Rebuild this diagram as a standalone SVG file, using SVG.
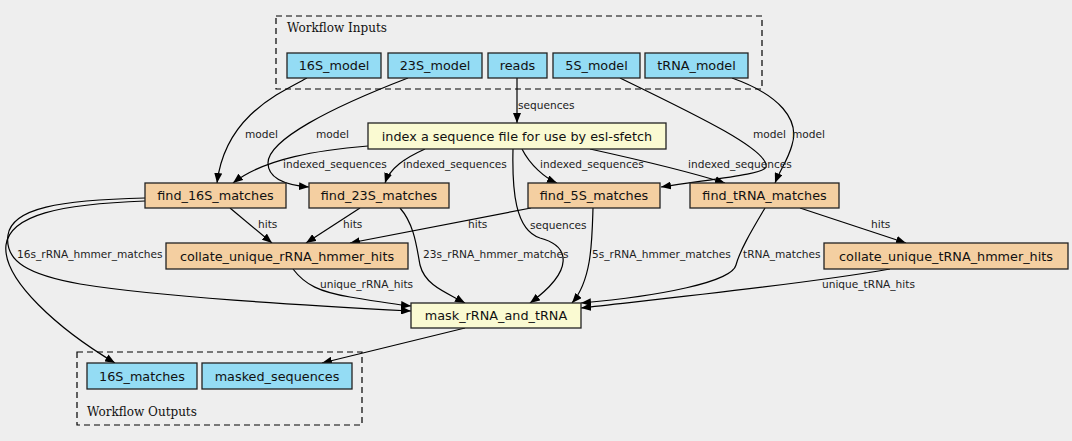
<svg xmlns="http://www.w3.org/2000/svg" width="1072" height="441" viewBox="0 0 1072 441">
<style>
.bg{fill:#eeeeee}
.cluster{fill:none;stroke:#000;stroke-width:1.2;stroke-dasharray:6,4}
.clabel{font-family:"DejaVu Serif",serif;font-size:12px;fill:#111}
.in rect{fill:#94dcf4;stroke:#222;stroke-width:1.3}
.step rect{fill:#f4cfa1;stroke:#222;stroke-width:1.3}
.tool rect{fill:#fafad2;stroke:#222;stroke-width:1.3}
.node text{font-family:"DejaVu Sans",sans-serif;font-size:12.8px;fill:#111;text-anchor:middle}
.edges path{fill:none;stroke:#000;stroke-width:1.2;marker-end:url(#ah)}
.elabel{font-family:"DejaVu Sans",sans-serif;font-size:10.6px;fill:#222}
</style>
<defs>
<marker id="ah" markerUnits="userSpaceOnUse" markerWidth="11" markerHeight="8" refX="10" refY="4" orient="auto">
<path d="M0,0 L10,4 L0,8 z" fill="#000"/>
</marker>
</defs>
<rect class="bg" x="0" y="0" width="1072" height="441"/>
<g id="cluster_inputs">
<rect class="cluster" x="276" y="16" width="486" height="73"/>
<text class="clabel" x="287" y="32">Workflow Inputs</text>
</g>
<g id="cluster_outputs">
<rect class="cluster" x="77" y="352" width="285" height="73"/>
<text class="clabel" x="87" y="416">Workflow Outputs</text>
</g>
<g class="edges" id="connectors">
<path d="M307,78 C275,95 225,118 217,183"/>
<path d="M408,78 C330,108 268,140 268,163 C268,178 285,185 309,187"/>
<path d="M517,78 L517,123"/>
<path d="M620,78 C690,112 770,150 766,167 C764,174 720,178 661,187"/>
<path d="M732,78 C780,95 800,120 792,145 C788,160 780,170 775,183"/>
<path d="M368,146 C320,150 265,158 233,183"/>
<path d="M425,149 C405,158 390,168 385,183"/>
<path d="M522,149 C530,165 545,178 557,183"/>
<path d="M590,149 C640,160 690,172 725,183"/>
<path d="M513,149 C512,190 515,230 540,238 C570,246 575,270 530,303"/>
<path d="M230,208 L272,243"/>
<path d="M360,208 L306,243"/>
<path d="M531,208 L350,243"/>
<path d="M800,208 L906,243"/>
<path d="M145,198 C60,200 12,208 8,235 C4,262 30,275 80,284 C160,297 300,305 411,311"/>
<path d="M145,201 C60,204 10,215 6,245 C2,280 60,330 115,363"/>
<path d="M400,208 C415,225 417,250 420,265 C425,285 445,292 465,303"/>
<path d="M593,208 C592,240 592,280 572,303"/>
<path d="M765,208 C752,230 740,250 736,265 C732,282 660,296 581,303"/>
<path d="M890,269 C800,285 650,300 581,308"/>
<path d="M293,269 C305,285 320,292 350,297 C380,302 400,305 411,306"/>
<path d="M465,328 L322,363"/>
</g>
<g id="edge_labels">
<text class="elabel" x="245" y="138">model</text>
<text class="elabel" x="316" y="138">model</text>
<text class="elabel" x="518" y="109">sequences</text>
<text class="elabel" x="753" y="138">model</text>
<text class="elabel" x="792" y="138">model</text>
<text class="elabel" x="283" y="168">indexed_sequences</text>
<text class="elabel" x="403" y="168">indexed_sequences</text>
<text class="elabel" x="540" y="168">indexed_sequences</text>
<text class="elabel" x="688" y="168">indexed_sequences</text>
<text class="elabel" x="258" y="228">hits</text>
<text class="elabel" x="343" y="228">hits</text>
<text class="elabel" x="468" y="228">hits</text>
<text class="elabel" x="871" y="228">hits</text>
<text class="elabel" x="530" y="229">sequences</text>
<text class="elabel" x="17" y="258">16s_rRNA_hmmer_matches</text>
<text class="elabel" x="423" y="258">23s_rRNA_hmmer_matches</text>
<text class="elabel" x="592" y="258">5s_rRNA_hmmer_matches</text>
<text class="elabel" x="743" y="258">tRNA_matches</text>
<text class="elabel" x="320" y="288">unique_rRNA_hits</text>
<text class="elabel" x="822" y="288">unique_tRNA_hits</text>
</g>
<g id="in_16S_model" class="node in"><rect x="287" y="53" width="94" height="25"/><text x="334" y="70">16S_model</text></g>
<g id="in_23S_model" class="node in"><rect x="388" y="53" width="94" height="25"/><text x="435" y="70">23S_model</text></g>
<g id="in_reads" class="node in"><rect x="488" y="53" width="59" height="25"/><text x="517.5" y="70">reads</text></g>
<g id="in_5S_model" class="node in"><rect x="553" y="53" width="87" height="25"/><text x="596.5" y="70">5S_model</text></g>
<g id="in_tRNA_model" class="node in"><rect x="645" y="53" width="103" height="25"/><text x="696.5" y="70">tRNA_model</text></g>
<g id="index" class="node tool"><rect x="368" y="123" width="298" height="26"/><text x="517" y="140.5">index a sequence file for use by esl-sfetch</text></g>
<g id="find_16S" class="node step"><rect x="145" y="183" width="141" height="25"/><text x="215.5" y="200">find_16S_matches</text></g>
<g id="find_23S" class="node step"><rect x="309" y="183" width="140" height="25"/><text x="379" y="200">find_23S_matches</text></g>
<g id="find_5S" class="node step"><rect x="528" y="183" width="132" height="25"/><text x="594" y="200">find_5S_matches</text></g>
<g id="find_tRNA" class="node step"><rect x="690" y="183" width="149" height="25"/><text x="764.5" y="200">find_tRNA_matches</text></g>
<g id="collate_rRNA" class="node step"><rect x="166" y="243" width="242" height="26"/><text x="287" y="260.5">collate_unique_rRNA_hmmer_hits</text></g>
<g id="collate_tRNA" class="node step"><rect x="824" y="243" width="244" height="26"/><text x="946" y="260.5">collate_unique_tRNA_hmmer_hits</text></g>
<g id="mask" class="node tool"><rect x="411" y="303" width="170" height="25"/><text x="496" y="320">mask_rRNA_and_tRNA</text></g>
<g id="out_16S_matches" class="node in"><rect x="87" y="363" width="110" height="26"/><text x="142" y="380.5">16S_matches</text></g>
<g id="out_masked_sequences" class="node in"><rect x="202" y="363" width="150" height="26"/><text x="277" y="380.5">masked_sequences</text></g>
</svg>
